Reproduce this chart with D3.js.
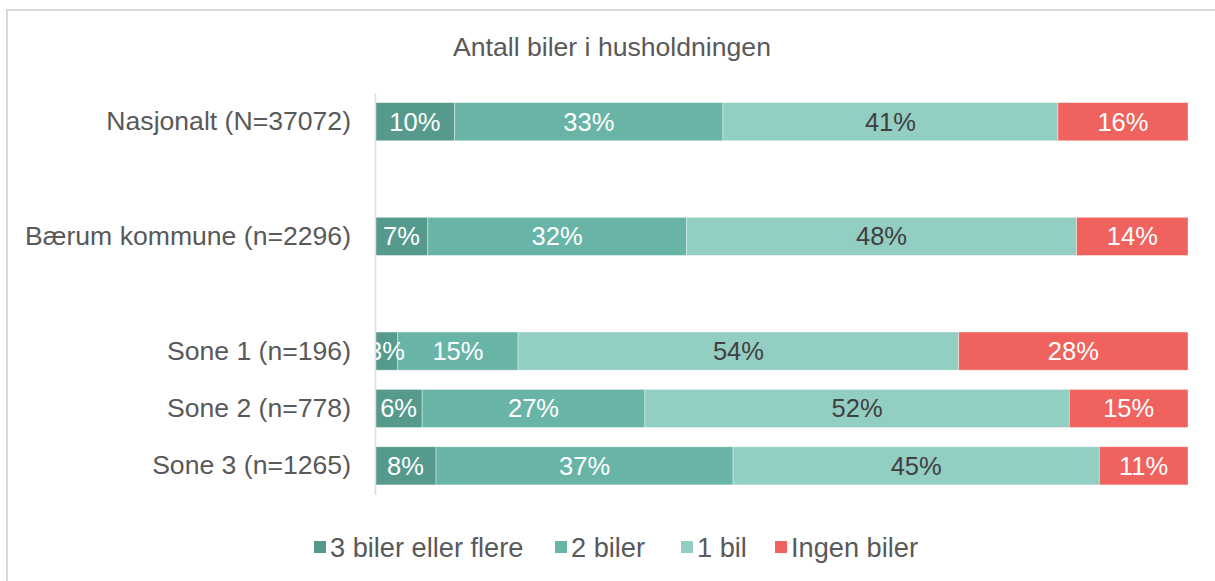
<!DOCTYPE html>
<html>
<head>
<meta charset="utf-8">
<script src="https://cdn.jsdelivr.net/npm/d3@7"></script>
<style>
  body { margin: 0; background: #fff; }
  svg text { font-family: "Liberation Sans", Arial, sans-serif; }
</style>
</head>
<body>
<svg id="chart"></svg>
<script>
// categories (empty keys are the gaps between groups)
var categories = ["nasj", "gap1", "baerum", "gap2", "sone1", "sone2", "sone3"];
var catLabels = ["Nasjonalt (N=37072)", "", "Bærum kommune (n=2296)", "", "Sone 1 (n=196)", "Sone 2 (n=778)", "Sone 3 (n=1265)"];
var rows = ["nasj", "baerum", "sone1", "sone2", "sone3"];

// shares in percent
var tre = [9.8, 6.5, 2.8, 5.8, 7.5];
var to = [33.0, 31.8, 14.8, 27.4, 36.5];
var en = [41.2, 48.0, 54.2, 52.2, 45.0];
var ingen = [16.0, 13.7, 28.2, 14.6, 10.9];

var seriesNames = ["3 biler eller flere", "2 biler", "1 bil", "Ingen biler"];
var seriesKeys = ["tre", "to", "en", "ingen"];
var colors = ["#559A8C", "#68B5A7", "#93CEC2", "#F0625D"];
var labelColors = ["#fff", "#fff", "#404040", "#fff"];

var title = "Antall biler i husholdningen";

var W = 1215, H = 581;
var margin = {left: 375, right: 27, top: 93, bottom: 86.5};
var w = W - margin.left - margin.right,
    h = H - margin.top - margin.bottom;
var fs = "26.6px"; // 20pt

var svg = d3.select("#chart").attr("width", W).attr("height", H);

// outer chart border (runs off the right and bottom)
svg.append("rect")
   .attr("x", 7).attr("y", 10)
   .attr("width", W + 20).attr("height", H + 20)
   .attr("fill", "none")
   .attr("stroke", "#D9D9D9")
   .attr("stroke-width", 2);

svg.append("text")
   .attr("x", 612)
   .attr("y", 56)
   .attr("text-anchor", "middle")
   .attr("font-size", fs)
   .attr("fill", "#595959")
   .text(title);

var data = rows.map(function(r, i) {
  return {cat: r, tre: tre[i], to: to[i], en: en[i], ingen: ingen[i]};
});

var stacked = d3.stack().keys(seriesKeys).offset(d3.stackOffsetExpand)(data);

var xScale = d3.scaleLinear().domain([0, 1]).range([0, w]);
var yScale = d3.scaleBand()
               .domain(categories)
               .range([0, h])
               .paddingInner(0.335)
               .paddingOuter(0.1675);

var g = svg.append("g").attr("transform", "translate(" + margin.left + "," + margin.top + ")");

g.append("clipPath").attr("id", "plotclip")
 .append("rect").attr("x", 0).attr("y", 0).attr("width", w).attr("height", h);

var layers = g.selectAll(".layer")
  .data(stacked)
  .enter().append("g")
  .attr("class", "layer")
  .attr("fill", function(d, i) { return colors[i]; });

layers.selectAll("rect")
  .data(function(d) { return d; })
  .enter().append("rect")
  .attr("x", function(d) { return xScale(d[0]); })
  .attr("y", function(d) { return yScale(d.data.cat); })
  .attr("width", function(d) { return xScale(d[1]) - xScale(d[0]); })
  .attr("height", yScale.bandwidth())
  .attr("stroke", "#fff")
  .attr("stroke-opacity", 0.5)
  .attr("stroke-width", 0.75);

// value labels
var labelsG = g.append("g").attr("clip-path", "url(#plotclip)");
stacked.forEach(function(layer, i) {
  labelsG.selectAll(".lbl" + i)
    .data(layer)
    .enter().append("text")
    .attr("class", "lbl" + i)
    .attr("x", function(d) { return (xScale(d[0]) + xScale(d[1])) / 2; })
    .attr("y", function(d) { return yScale(d.data.cat) + yScale.bandwidth() / 2; })
    .attr("dy", "0.35em")
    .attr("text-anchor", "middle")
    .attr("font-size", "25.5px")
    .attr("fill", labelColors[i])
    .text(function(d) { return Math.round(d.data[layer.key]) + "%"; });
});

// y axis
var yAxis = d3.axisLeft(yScale)
  .tickSize(0)
  .tickSizeOuter(0)
  .tickPadding(24)
  .tickFormat(function(d, i) { return catLabels[i]; });

var ya = g.append("g").attr("class", "axis").call(yAxis);
ya.select(".domain").attr("stroke", "#E6D6DE").attr("stroke-width", 1.5);
ya.selectAll("text")
  .attr("font-size", fs)
  .attr("fill", "#595959")
  .style("font-family", "'Liberation Sans', Arial, sans-serif");

// legend
var legendX = [314, 555, 681, 775];
var legend = svg.append("g");
seriesNames.forEach(function(name, i) {
  legend.append("rect")
    .attr("x", legendX[i])
    .attr("y", 541)
    .attr("width", 12)
    .attr("height", 12)
    .attr("fill", colors[i]);
  legend.append("text")
    .attr("x", legendX[i] + 16)
    .attr("y", 547)
    .attr("dy", "0.35em")
    .attr("font-size", "27.2px")
    .attr("fill", "#595959")
    .text(name);
});
</script>
</body>
</html>
